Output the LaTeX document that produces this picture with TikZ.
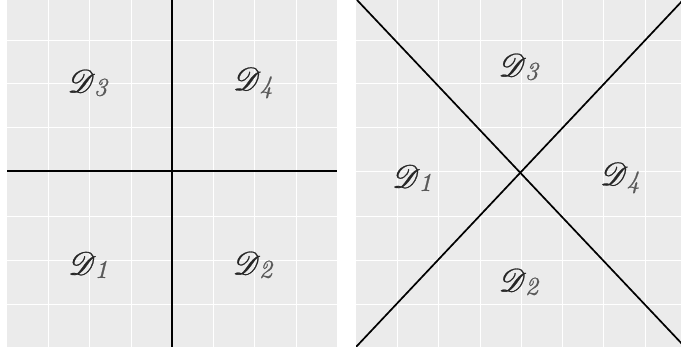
\documentclass[tikz,border=0pt]{standalone}
\usepackage{mathrsfs}
\usepackage{graphicx}
\begin{document}
\begin{tikzpicture}[x=1pt,y=1pt,
  panel/.style={fill=bgray,draw=none},
  gridline/.style={white,line width=0.9pt},
  cut/.style={black,line width=1.7pt},
  lab/.style={text=black!85,scale=3.2,transform shape,inner sep=0pt}]
\definecolor{bgray}{HTML}{EBEBEB}
\useasboundingbox (0,0) rectangle (681,358);
\newcommand{\dlab}[1]{\special{pdf:literal direct 2 Tr 0.08 w}$\mathscr{D}$\kern-0.05em\raisebox{-0.25ex}{\scalebox{0.8}{\textcolor{black!65}{\textit{#1}}}}\special{pdf:literal direct 0 Tr}}
% left panel
\fill[panel] (7,11) rectangle (337,358);
\foreach \x in {48,89,131,213,254,296} \draw[gridline] (\x,11) -- (\x,358);
\foreach \y in {318,275,231,187,142,98,54} \draw[gridline] (7,\y) -- (337,\y);
\coordinate (lt) at (172,358); \coordinate (lb) at (172,11);
\coordinate (ll) at (7,187); \coordinate (lr) at (337,187);
\draw[cut] (lt) -- (lb);
\draw[cut] (ll) -- (lr);
\node[lab] (l3) at (88,275) {\dlab{3}};
\node[lab] (l4) at (253,275) {\dlab{4}};
\node[lab] (l1) at (88,93) {\dlab{1}};
\node[lab] (l2) at (253,93) {\dlab{2}};
% right panel
\fill[panel] (356,11) rectangle (681,358);
\foreach \x in {397,438,480,521,562,603,645} \draw[gridline] (\x,11) -- (\x,358);
\foreach \y in {318,275,231,187,142,98,54} \draw[gridline] (356,\y) -- (681,\y);
\begin{scope}
\clip (356,11) rectangle (681,358);
\coordinate (a1) at (357,358); \coordinate (a2) at (684,12);
\coordinate (b1) at (356,11); \coordinate (b2) at (684,359);
\draw[cut] (a1) -- (a2);
\draw[cut] (b1) -- (b2);
\end{scope}
\node[lab] (r3) at (519,291) {\dlab{3}};
\node[lab] (r1) at (412,180) {\dlab{1}};
\node[lab] (r4) at (620,180) {\dlab{4}};
\node[lab] (r2) at (519,76) {\dlab{2}};
\end{tikzpicture}
\end{document}
